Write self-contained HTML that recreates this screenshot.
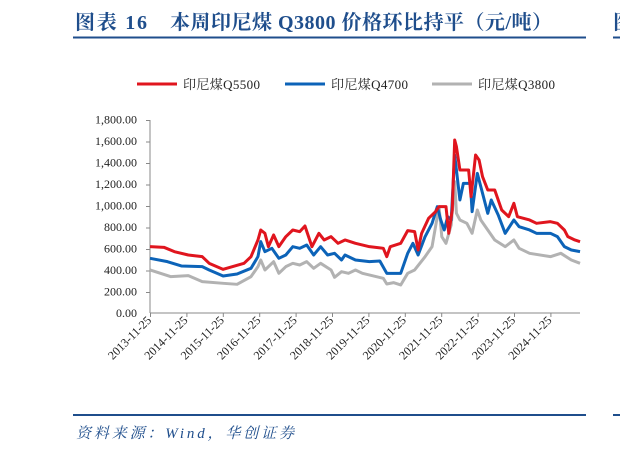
<!DOCTYPE html>
<html><head><meta charset="utf-8"><style>
html,body{margin:0;padding:0;background:#fff;width:620px;height:451px;overflow:hidden}
</style></head><body>
<svg width="620" height="451" xmlns="http://www.w3.org/2000/svg" font-family="'Liberation Serif','Noto Serif CJK SC',serif">
<text x="75" y="29" font-size="20" font-weight="bold" fill="#1f4e8c" textLength="72" lengthAdjust="spacing">图表 16</text>
<text x="170" y="29" font-size="20" font-weight="bold" fill="#1f4e8c" textLength="382" lengthAdjust="spacing">本周印尼煤 Q3800 价格环比持平（元/吨）</text>
<line x1="73" y1="37.5" x2="586" y2="37.5" stroke="#1f4e8c" stroke-width="2"/>
<text x="613" y="29" font-size="20" font-weight="bold" fill="#1f4e8c">图</text>
<line x1="613" y1="37.5" x2="620" y2="37.5" stroke="#1f4e8c" stroke-width="2"/>
<g font-size="13" fill="#222">
<line x1="137" y1="84" x2="177" y2="84" stroke="#e0151e" stroke-width="3"/><text x="183" y="89" textLength="77" lengthAdjust="spacing">印尼煤Q5500</text>
<line x1="285" y1="84" x2="325" y2="84" stroke="#0c63b8" stroke-width="3"/><text x="331" y="89" textLength="77" lengthAdjust="spacing">印尼煤Q4700</text>
<line x1="432" y1="84" x2="472" y2="84" stroke="#b2b2b2" stroke-width="3"/><text x="478" y="89" textLength="77" lengthAdjust="spacing">印尼煤Q3800</text>
</g>
<g font-size="12" fill="#222" text-anchor="end">
<text x="137" y="317">0.00</text><text x="137" y="295.5">200.00</text><text x="137" y="274">400.00</text><text x="137" y="252.5">600.00</text><text x="137" y="231">800.00</text><text x="137" y="209.5">1,000.00</text><text x="137" y="188">1,200.00</text><text x="137" y="166.5">1,400.00</text><text x="137" y="145">1,600.00</text><text x="137" y="123.5">1,800.00</text>
</g>
<g stroke="#888" stroke-width="1">
<line x1="150" y1="120" x2="150" y2="313"/>
<line x1="150" y1="313" x2="580" y2="313"/>
<line x1="146" y1="120.5" x2="150" y2="120.5"/><line x1="146" y1="142" x2="150" y2="142"/><line x1="146" y1="163.5" x2="150" y2="163.5"/><line x1="146" y1="185" x2="150" y2="185"/><line x1="146" y1="206.5" x2="150" y2="206.5"/><line x1="146" y1="228" x2="150" y2="228"/><line x1="146" y1="249.5" x2="150" y2="249.5"/><line x1="146" y1="271" x2="150" y2="271"/><line x1="146" y1="292.5" x2="150" y2="292.5"/>
<line x1="150.5" y1="313" x2="150.5" y2="317"/><line x1="186.9" y1="313" x2="186.9" y2="317"/><line x1="223.3" y1="313" x2="223.3" y2="317"/><line x1="259.7" y1="313" x2="259.7" y2="317"/><line x1="296.1" y1="313" x2="296.1" y2="317"/><line x1="332.5" y1="313" x2="332.5" y2="317"/><line x1="368.9" y1="313" x2="368.9" y2="317"/><line x1="405.3" y1="313" x2="405.3" y2="317"/><line x1="441.7" y1="313" x2="441.7" y2="317"/><line x1="478.1" y1="313" x2="478.1" y2="317"/><line x1="514.5" y1="313" x2="514.5" y2="317"/><line x1="550.9" y1="313" x2="550.9" y2="317"/>
</g>
<g font-size="12" fill="#222" text-anchor="end">
<g transform="translate(152,321) rotate(-45)"><text>2013-11-25</text></g>
<g transform="translate(188.4,321) rotate(-45)"><text>2014-11-25</text></g>
<g transform="translate(224.8,321) rotate(-45)"><text>2015-11-25</text></g>
<g transform="translate(261.2,321) rotate(-45)"><text>2016-11-25</text></g>
<g transform="translate(297.6,321) rotate(-45)"><text>2017-11-25</text></g>
<g transform="translate(334,321) rotate(-45)"><text>2018-11-25</text></g>
<g transform="translate(370.4,321) rotate(-45)"><text>2019-11-25</text></g>
<g transform="translate(406.8,321) rotate(-45)"><text>2020-11-25</text></g>
<g transform="translate(443.2,321) rotate(-45)"><text>2021-11-25</text></g>
<g transform="translate(479.6,321) rotate(-45)"><text>2022-11-25</text></g>
<g transform="translate(516,321) rotate(-45)"><text>2023-11-25</text></g>
<g transform="translate(552.4,321) rotate(-45)"><text>2024-11-25</text></g>
</g>
<g transform="translate(56,100) scale(0.3482,0.3333)" fill="none" stroke-linejoin="round">
<polyline vector-effect="non-scaling-stroke" stroke="#b2b2b2" stroke-width="3" points="270,510 330,530 380,527 420,545 480,550 520,553 560,530 580,500 588,480 600,510 625,485 640,520 660,500 680,490 700,495 720,485 740,505 760,490 790,510 800,532 820,515 840,520 860,510 880,520 940,535 950,552 970,548 990,555 1010,520 1030,510 1060,470 1080,440 1095,350 1100,320 1108,410 1120,430 1135,375 1145,245 1150,340 1160,360 1180,370 1195,400 1210,330 1220,360 1240,390 1260,420 1290,440 1315,420 1330,445 1360,460 1420,470 1450,460 1480,480 1505,490"/>
<polyline vector-effect="non-scaling-stroke" stroke="#0c63b8" stroke-width="3" points="270,475 320,485 360,498 420,500 440,510 480,528 520,522 560,505 580,470 588,425 600,455 620,445 640,475 660,465 680,440 700,445 720,435 740,465 760,440 780,465 800,460 820,480 830,465 860,480 900,485 930,483 950,520 990,520 1010,460 1025,430 1040,465 1060,410 1080,370 1095,320 1105,360 1115,390 1125,350 1135,360 1145,165 1160,300 1170,250 1190,250 1195,335 1210,220 1220,260 1240,340 1250,300 1270,345 1290,400 1315,360 1330,380 1360,390 1380,400 1420,400 1440,410 1460,440 1480,450 1505,455"/>
<polyline vector-effect="non-scaling-stroke" stroke="#e0151e" stroke-width="3" points="270,440 310,442 340,455 380,465 420,470 440,490 480,508 500,502 540,490 560,470 580,420 588,390 600,400 610,440 625,405 640,440 660,410 680,390 700,395 715,378 735,440 755,400 770,420 790,410 810,430 830,420 860,430 900,440 940,445 950,470 960,440 990,430 1010,392 1030,395 1040,450 1050,400 1070,355 1090,335 1100,320 1120,320 1128,400 1138,330 1145,120 1150,140 1160,210 1185,210 1192,290 1205,165 1215,180 1225,230 1240,270 1260,270 1280,330 1300,350 1315,310 1325,350 1360,360 1380,370 1420,365 1440,370 1460,390 1470,410 1490,420 1505,425"/>
</g>
<line x1="73" y1="415" x2="586" y2="415" stroke="#1f4e8c" stroke-width="2"/>
<line x1="613" y1="415" x2="620" y2="415" stroke="#1f4e8c" stroke-width="2"/>
<text x="76" y="438" font-size="15" font-style="italic" fill="#1f4e8c" textLength="218" lengthAdjust="spacing">资料来源：Wind，华创证券</text>
</svg>
</body></html>
